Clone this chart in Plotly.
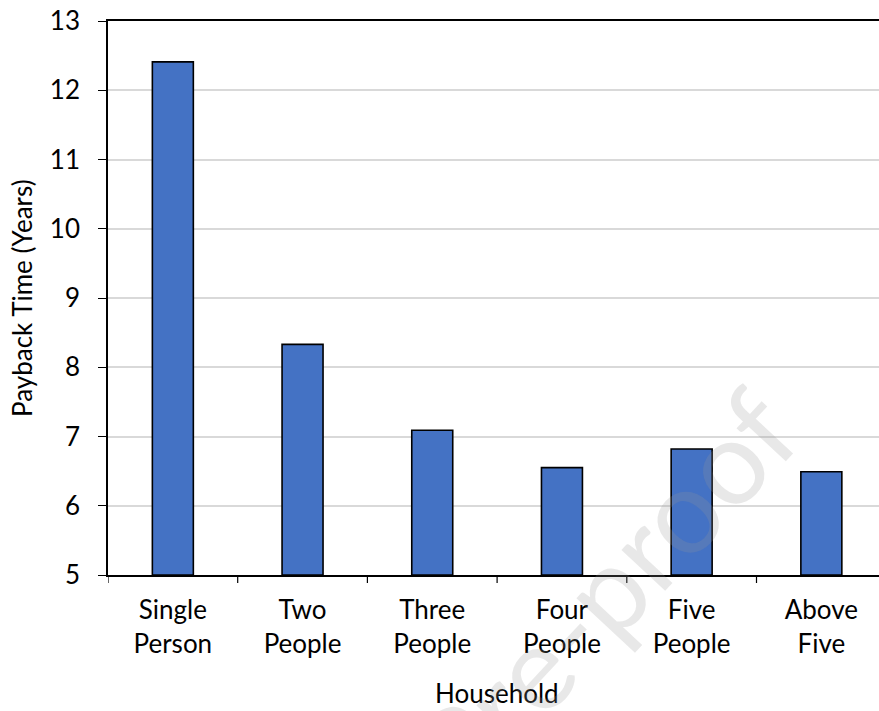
import plotly.graph_objects as go

# Payback time by household size
households = ["Single<br>Person", "Two<br>People", "Three<br>People",
              "Four<br>People", "Five<br>People", "Above<br>Five"]
payback_years = [12.41, 8.33, 7.09, 6.55, 6.82, 6.49]
y_ticks = [5, 6, 7, 8, 9, 10, 11, 12, 13]

W, H = 879, 711
M_L, M_T, M_B, M_R = 108, 21, 136, 0
cat_px = 129.7  # horizontal space per category
plot_w = W - M_L - M_R
plot_h = H - M_T - M_B

FONT = "Lato, 'Open Sans', sans-serif"
FS = 26

fig = go.Figure(
    go.Bar(
        x=list(range(len(households))),
        y=[v - 5 for v in payback_years],
        base=5,
        width=0.316,
        marker=dict(color="#4472C4", line=dict(color="#000000", width=1.6)),
        hoverinfo="skip",
    )
)

fig.update_layout(
    width=W,
    height=H,
    margin=dict(l=M_L, r=M_R, t=M_T, b=M_B, pad=0),
    paper_bgcolor="white",
    plot_bgcolor="white",
    showlegend=False,
    font=dict(family=FONT, size=FS, color="#000000"),
    xaxis=dict(
        range=[-0.5, -0.5 + plot_w / cat_px],
        tickmode="array",
        tickvals=list(range(len(households))),
        ticktext=households,
        showline=True,
        linecolor="#000000",
        linewidth=1.6,
        mirror=True,
        ticks="",
        showgrid=False,
        zeroline=False,
        tickfont=dict(size=FS),
        ticklabelstandoff=11,
    ),
    yaxis=dict(
        range=[5, 13],
        tickmode="array",
        tickvals=y_ticks,
        ticktext=[str(t) for t in y_ticks],
        showline=True,
        linecolor="#000000",
        linewidth=1.6,
        ticks="outside",
        ticklen=8,
        tickwidth=1.2,
        tickcolor="#000000",
        showgrid=True,
        gridcolor="#d9d9d9",
        gridwidth=1.5,
        zeroline=False,
        tickfont=dict(size=FS),
        ticklabelstandoff=13,
    ),
)

# category boundary ticks below the x axis
for b in range(len(households)):
    fig.add_shape(
        type="line", xref="x", yref="paper",
        x0=b - 0.5, x1=b - 0.5, y0=0, y1=-8 / plot_h,
        line=dict(color="#000000", width=1.2),
    )

fig.add_annotation(
    text="Household", xref="paper", yref="paper",
    x=(497 - M_L) / plot_w, y=-(693 - (H - M_B)) / plot_h,
    xanchor="center", yanchor="middle", showarrow=False,
    font=dict(size=FS, family=FONT, color="#000000"),
)
fig.add_annotation(
    text="Payback Time (Years)", xref="paper", yref="paper",
    x=-(M_L - 22) / plot_w, y=0.5,
    xanchor="center", yanchor="middle", textangle=-90, showarrow=False,
    font=dict(size=FS, family=FONT, color="#000000"),
)

# faint diagonal watermark
fig.add_annotation(
    text="Journal Pre-proof", xref="paper", yref="paper",
    x=(464 - M_L) / plot_w, y=-(739 - (H - M_B)) / plot_h,
    xanchor="center", yanchor="middle", textangle=-47, showarrow=False,
    font=dict(size=118, family=FONT, color="rgba(150,150,150,0.22)"),
)

fig.write_html("out.html")
